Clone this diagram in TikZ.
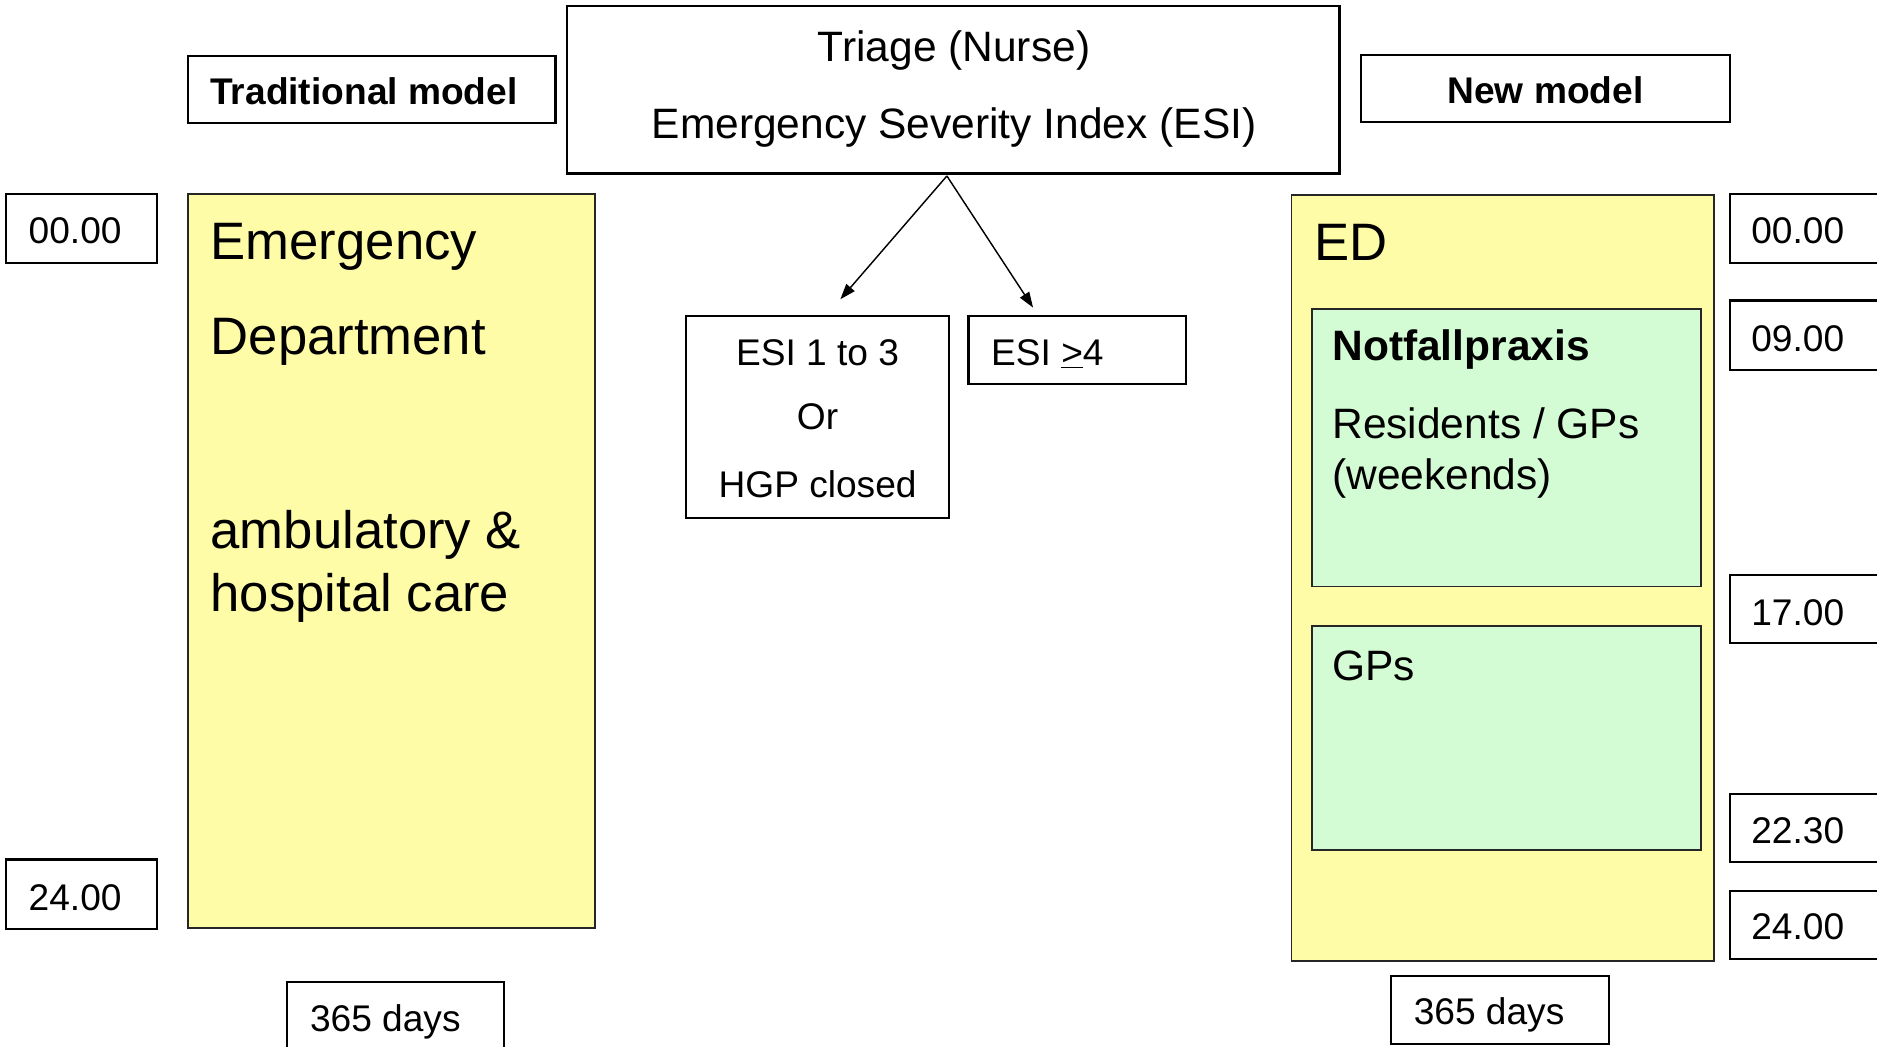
\documentclass[tikz,border=0pt]{standalone}
\usepackage{fontspec}
\setmainfont{Liberation Sans}
\usetikzlibrary{arrows.meta}
\definecolor{yelfill}{RGB}{255,252,168}
\definecolor{grnfill}{RGB}{212,252,212}
\tikzset{
  sm/.style={font=\fontsize{31}{37}\selectfont, inner sep=0pt, outer sep=0pt, yshift=-1.5pt},
  smb/.style={font=\fontsize{31}{37}\selectfont\bfseries, inner sep=0pt, outer sep=0pt, yshift=-1.5pt},
  md/.style={font=\fontsize{35.5}{42}\selectfont, inner sep=0pt, outer sep=0pt, yshift=-1.5pt},
  mdb/.style={font=\fontsize{35.5}{42}\selectfont\bfseries, inner sep=0pt, outer sep=0pt, yshift=-1.5pt},
  lg/.style={font=\fontsize{44}{52}\selectfont, inner sep=0pt, outer sep=0pt, yshift=-1.5pt},
  box/.style={draw=black, line width=1.8pt},
  ybox/.style={draw=black!85, line width=1.4pt, fill=yelfill},
  gbox/.style={draw=black!85, line width=1.4pt, fill=grnfill},
  arr/.style={line width=1.2pt, -{Triangle[length=13pt,width=9pt]}}
}
\begin{document}
\begin{tikzpicture}[x=1pt,y=-1pt]
\useasboundingbox (0,0) rectangle (1568,874.6);
\begin{scope}
\clip (0,0) rectangle (1568,874.6);
\fill[white] (0,0) rectangle (1568,874.6);
% headers
\draw[box] (157,47) rectangle (464,103);
\node[smb, anchor=base] (trad) at (304,86) {Traditional model};
\draw[box] (474,5) rectangle (1119,145);
\node[md, anchor=base] (triage1) at (797,50) {Triage (Nurse)};
\node[md, anchor=base] (triage2) at (797,114) {Emergency Severity Index (ESI)};
\draw[box] (1137,46) rectangle (1445,102);
\node[smb, anchor=base] (newm) at (1291,85) {New model};
% left time boxes
\draw[box] (5,162) rectangle (131,220);
\node[sm, anchor=base west] (l00) at (24,202) {00.00};
\draw[box] (5,718) rectangle (131,776);
\node[sm, anchor=base west] (l24) at (24,759) {24.00};
% left yellow
\draw[ybox] (157,162) rectangle (497,775);
\node[lg, anchor=base west] (em) at (176,215) {Emergency};
\node[lg, anchor=base west] (dep) at (176,295) {Department};
\node[lg, anchor=base west] (amb) at (176,457) {ambulatory \&};
\node[lg, anchor=base west] (hos) at (176,509) {hospital care};
\draw[box] (240,820) rectangle (421,890);
\node[sm, anchor=base west] (ldays) at (259,860) {365 days};
% ESI boxes
\draw[box] (573,264) rectangle (793,433);
\node[sm, anchor=base] (esia) at (683,304) {ESI 1 to 3};
\node[sm, anchor=base] (esib) at (683,357) {Or};
\node[sm, anchor=base] (esic) at (683,414) {HGP closed};
\draw[box] (809,264) rectangle (991,321);
\node[sm, anchor=base west] (esi4) at (828,304) {ESI \underline{>}4};
% arrows
\coordinate (apex) at (791,147);
\coordinate (tipL) at (702,250);
\coordinate (tipR) at (863,257);
\draw[arr] (apex) -- (tipL);
\draw[arr] (apex) -- (tipR);
% right yellow
\draw[ybox] (1079,163) rectangle (1432,803);
\node[lg, anchor=base west] (ed) at (1098,216) {ED};
\draw[gbox] (1096,258) rectangle (1421,490);
\node[mdb, anchor=base west] (notf) at (1113,300) {Notfallpraxis};
\node[md, anchor=base west] (res) at (1113,365) {Residents / GPs};
\node[md, anchor=base west] (wk) at (1113,407) {(weekends)};
\draw[gbox] (1096,523) rectangle (1421,710);
\node[md, anchor=base west] (gps) at (1113,567) {GPs};
% right time boxes
\draw[box] (1445,162) rectangle (1600,220);
\node[sm, anchor=base west] (r00) at (1463,202) {00.00};
\draw[box] (1445,251) rectangle (1600,309);
\node[sm, anchor=base west] (r09) at (1463,292) {09.00};
\draw[box] (1445,480) rectangle (1600,537);
\node[sm, anchor=base west] (r17) at (1463,521) {17.00};
\draw[box] (1445,663) rectangle (1600,720);
\node[sm, anchor=base west] (r22) at (1463,703) {22.30};
\draw[box] (1445,744) rectangle (1600,801);
\node[sm, anchor=base west] (r24) at (1463,783.5) {24.00};
\draw[box] (1162,815) rectangle (1344,872);
\node[sm, anchor=base west] (rdays) at (1181,854) {365 days};
\end{scope}
\end{tikzpicture}
\end{document}
